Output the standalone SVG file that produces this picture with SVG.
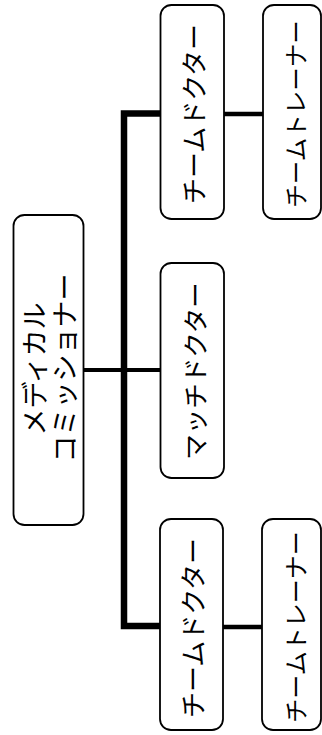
<svg xmlns="http://www.w3.org/2000/svg" width="322" height="735" viewBox="0 0 322 735">
  <style>
    .box { fill: #ffffff; stroke: #000000; stroke-width: 1.8; }
    .wire { fill: none; stroke: #000000; stroke-linecap: butt; stroke-linejoin: miter; }
    .lbl { font-family: "Noto Sans CJK JP", "Noto Sans", sans-serif; fill: #000000; text-anchor: middle; dominant-baseline: central; }
  </style>
  <rect width="322" height="735" fill="#ffffff"/>

  <!-- connectors -->
  <g id="connectors">
    <path class="wire" d="M160,113.5 H124 V626 H160" stroke-width="6.5"/>
    <line class="wire" x1="83" y1="370" x2="160" y2="370" stroke-width="4"/>
    <line class="wire" x1="224" y1="114" x2="263" y2="114" stroke-width="4.5"/>
    <line class="wire" x1="223" y1="627" x2="262" y2="627" stroke-width="4.5"/>
  </g>

  <!-- root -->
  <g id="medical-commissioner">
    <rect class="box" x="13.5" y="215" width="70" height="310" rx="11"/>
    <text class="lbl" font-size="27" transform="translate(33 369) rotate(-90)">メディカル</text>
    <text class="lbl" font-size="27" transform="translate(63 368) rotate(-90)">コミッショナー</text>
  </g>

  <g id="team-doctor-1">
    <rect class="box" x="160.5" y="5" width="63.5" height="214" rx="11"/>
    <text class="lbl" font-size="26" transform="translate(192.5 114) rotate(-90)">チームドクター</text>
  </g>

  <g id="team-trainer-1">
    <rect class="box" x="263" y="5" width="58" height="214" rx="11"/>
    <text class="lbl" font-size="23.5" transform="translate(295 114) rotate(-90)">チームトレーナー</text>
  </g>

  <g id="match-doctor">
    <rect class="box" x="160.5" y="263" width="63.5" height="215" rx="11"/>
    <text class="lbl" font-size="25.5" transform="translate(193 371) rotate(-90)">マッチドクター</text>
  </g>

  <g id="team-doctor-2">
    <rect class="box" x="160" y="519" width="63" height="211" rx="11"/>
    <text class="lbl" font-size="26" transform="translate(191.5 628) rotate(-90)">チームドクター</text>
  </g>

  <g id="team-trainer-2">
    <rect class="box" x="262" y="519" width="59" height="211" rx="11"/>
    <text class="lbl" font-size="24" transform="translate(294 627) rotate(-90)">チームトレーナー</text>
  </g>
</svg>
